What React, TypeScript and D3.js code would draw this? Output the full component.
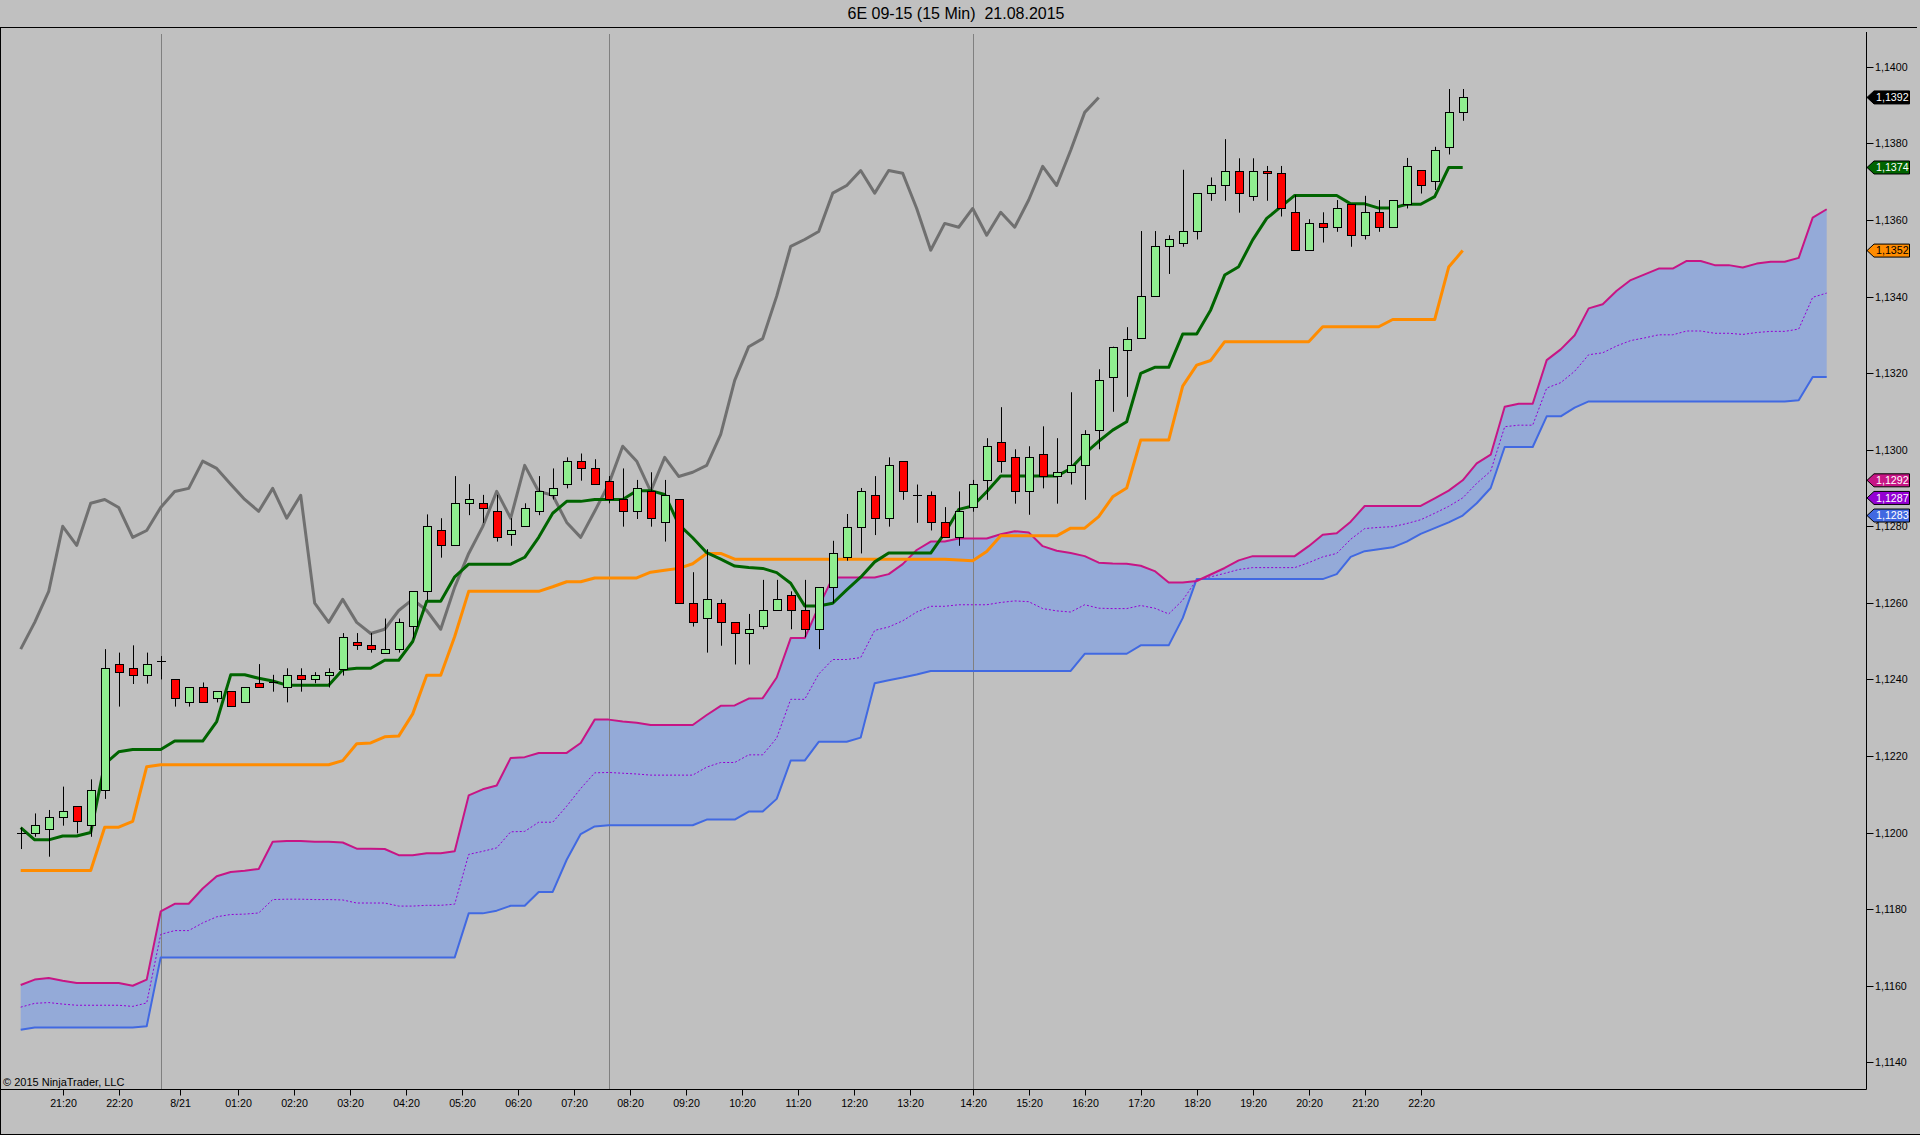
import React, { useEffect } from 'react';
import * as d3 from 'd3';

// ---------- data ----------
const open = [1.11998,1.11998,1.12009,1.12040,1.12069,1.12019,1.12110,1.12439,1.12429,1.12411,
1.12449,1.12400,1.12340,1.12379,1.12351,1.12369,1.12340,1.12390,1.12392,1.12379,
1.12411,1.12400,1.12411,1.12428,1.12499,1.12489,1.12470,1.12479,1.12539,1.12630,
1.12789,1.12750,1.12860,1.12860,1.12839,1.12779,1.12800,1.12839,1.12881,1.12910,
1.12970,1.12951,1.12919,1.12870,1.12839,1.12891,1.12810,1.12870,1.12599,1.12560,
1.12599,1.12549,1.12520,1.12540,1.12580,1.12620,1.12580,1.12531,1.12641,1.12719,
1.12799,1.12881,1.12821,1.12970,1.12881,1.12881,1.12810,1.12771,1.12850,1.12920,
1.13019,1.12980,1.12891,1.12990,1.12930,1.12941,1.12959,1.13051,1.13189,1.13260,
1.13291,1.13401,1.13531,1.13541,1.13570,1.13670,1.13690,1.13729,1.13662,1.13729,
1.13722,1.13620,1.13521,1.13591,1.13581,1.13641,1.13560,1.13620,1.13581,1.13641,
1.13730,1.13701,1.13790,1.13881];

const high = [1.12013,1.12050,1.12059,1.12120,1.12069,1.12139,1.12479,1.12470,1.12489,1.12470,
1.12461,1.12400,1.12379,1.12392,1.12369,1.12369,1.12379,1.12440,1.12412,1.12429,
1.12429,1.12419,1.12429,1.12521,1.12521,1.12521,1.12559,1.12559,1.12630,1.12831,
1.12821,1.12931,1.12910,1.12882,1.12882,1.12821,1.12860,1.12931,1.12951,1.12980,
1.12990,1.12975,1.12931,1.12951,1.12921,1.12941,1.12921,1.12870,1.12680,1.12740,
1.12609,1.12549,1.12571,1.12660,1.12660,1.12630,1.12660,1.12641,1.12762,1.12832,
1.12900,1.12931,1.12980,1.12970,1.12909,1.12891,1.12850,1.12891,1.12921,1.13030,
1.13111,1.13001,1.13009,1.13061,1.13030,1.13150,1.13051,1.13210,1.13269,1.13320,
1.13571,1.13571,1.13560,1.13731,1.13670,1.13711,1.13811,1.13761,1.13761,1.13741,
1.13741,1.13665,1.13602,1.13620,1.13652,1.13641,1.13663,1.13652,1.13652,1.13762,
1.13730,1.13791,1.13942,1.13942];

const low = [1.11957,1.11989,1.11937,1.12018,1.11998,1.11989,1.12088,1.12329,1.12388,1.12389,
1.12400,1.12329,1.12329,1.12340,1.12340,1.12330,1.12340,1.12379,1.12368,1.12340,
1.12368,1.12390,1.12379,1.12410,1.12477,1.12470,1.12470,1.12470,1.12507,1.12607,
1.12718,1.12750,1.12829,1.12809,1.12760,1.12749,1.12800,1.12829,1.12870,1.12899,
1.12919,1.12910,1.12860,1.12799,1.12819,1.12799,1.12760,1.12599,1.12538,1.12470,
1.12488,1.12439,1.12439,1.12531,1.12580,1.12531,1.12510,1.12479,1.12599,1.12710,
1.12729,1.12777,1.12799,1.12869,1.12809,1.12789,1.12771,1.12749,1.12838,1.12869,
1.12940,1.12859,1.12830,1.12899,1.12859,1.12909,1.12869,1.13001,1.13099,1.13138,
1.13291,1.13401,1.13459,1.13530,1.13549,1.13650,1.13650,1.13619,1.13650,1.13650,
1.13609,1.13521,1.13521,1.13541,1.13569,1.13530,1.13549,1.13569,1.13581,1.13630,
1.13669,1.13678,1.13771,1.13859];

const close = [1.11998,1.12019,1.12040,1.12057,1.12029,1.12110,1.12429,1.12419,1.12411,1.12439,
1.12449,1.12351,1.12379,1.12340,1.12369,1.12330,1.12379,1.12379,1.12392,1.12411,
1.12400,1.12411,1.12419,1.12510,1.12489,1.12479,1.12479,1.12549,1.12630,1.12800,
1.12750,1.12860,1.12870,1.12849,1.12771,1.12789,1.12849,1.12891,1.12899,1.12970,
1.12951,1.12910,1.12870,1.12839,1.12899,1.12821,1.12881,1.12599,1.12549,1.12609,
1.12549,1.12520,1.12531,1.12580,1.12609,1.12580,1.12531,1.12641,1.12729,1.12799,
1.12891,1.12821,1.12959,1.12891,1.12881,1.12810,1.12771,1.12839,1.12910,1.13009,
1.12970,1.12891,1.12980,1.12930,1.12941,1.12959,1.13040,1.13181,1.13269,1.13290,
1.13401,1.13531,1.13549,1.13570,1.13670,1.13690,1.13729,1.13670,1.13729,1.13722,
1.13630,1.13521,1.13591,1.13581,1.13630,1.13560,1.13620,1.13581,1.13652,1.13740,
1.13690,1.13782,1.13881,1.13920];

// Tenkan-sen (dark green)
const tenkan = [1.12013,1.11981,1.11981,1.11991,1.11991,1.12000,1.12179,1.12211,1.12217,1.12217,
1.12217,1.12239,1.12239,1.12239,1.12290,1.12412,1.12412,1.12403,1.12396,1.12385,
1.12385,1.12385,1.12385,1.12425,1.12429,1.12429,1.12450,1.12450,1.12499,1.12604,
1.12604,1.12668,1.12701,1.12701,1.12701,1.12701,1.12719,1.12771,1.12834,1.12865,
1.12865,1.12870,1.12870,1.12870,1.12893,1.12893,1.12883,1.12805,1.12770,1.12731,
1.12714,1.12696,1.12692,1.12690,1.12679,1.12651,1.12592,1.12592,1.12599,1.12634,
1.12667,1.12707,1.12730,1.12730,1.12730,1.12730,1.12782,1.12844,1.12853,1.12890,
1.12931,1.12931,1.12931,1.12931,1.12931,1.12951,1.12990,1.13022,1.13051,1.13073,
1.13199,1.13215,1.13215,1.13302,1.13302,1.13365,1.13456,1.13478,1.13548,1.13604,
1.13634,1.13664,1.13664,1.13664,1.13664,1.13642,1.13642,1.13631,1.13631,1.13641,
1.13641,1.13661,1.13737,1.13737];

// Kijun-sen (orange)
const kijun = [1.11901,1.11901,1.11901,1.11901,1.11901,1.11901,1.12014,1.12014,1.12029,1.12172,
1.12177,1.12177,1.12177,1.12177,1.12177,1.12177,1.12177,1.12177,1.12177,1.12177,
1.12177,1.12177,1.12177,1.12188,1.12232,1.12234,1.12250,1.12252,1.12310,1.12411,
1.12411,1.12512,1.12630,1.12630,1.12630,1.12630,1.12630,1.12630,1.12642,1.12655,
1.12655,1.12665,1.12665,1.12665,1.12665,1.12680,1.12685,1.12690,1.12702,1.12729,
1.12729,1.12714,1.12714,1.12714,1.12714,1.12714,1.12714,1.12714,1.12714,1.12714,
1.12714,1.12714,1.12714,1.12714,1.12714,1.12714,1.12714,1.12712,1.12710,1.12734,
1.12775,1.12775,1.12775,1.12775,1.12775,1.12795,1.12795,1.12825,1.12877,1.12900,
1.13025,1.13025,1.13025,1.13166,1.13221,1.13233,1.13282,1.13282,1.13282,1.13282,
1.13282,1.13282,1.13282,1.13321,1.13321,1.13321,1.13321,1.13321,1.13340,1.13340,
1.13340,1.13340,1.13477,1.13520];

// Chikou span (grey): the close plotted 26 bars back
const chikou = close.slice(26);

// Senkou span A (pink), 26 bars beyond the last candle
const senkouA = [1.11602,1.11616,1.11620,1.11613,1.11607,1.11607,1.11607,1.11607,1.11600,1.11616,
1.11794,1.11814,1.11814,1.11854,1.11886,1.11897,1.11900,1.11905,1.11976,1.11978,
1.11978,1.11976,1.11976,1.11974,1.11958,1.11958,1.11957,1.11941,1.11941,1.11946,
1.11946,1.11951,1.12097,1.12113,1.12123,1.12195,1.12197,1.12208,1.12208,1.12208,
1.12234,1.12295,1.12295,1.12290,1.12287,1.12281,1.12281,1.12281,1.12281,1.12307,
1.12331,1.12332,1.12350,1.12351,1.12405,1.12508,1.12508,1.12590,1.12666,1.12666,
1.12666,1.12666,1.12675,1.12701,1.12738,1.12760,1.12760,1.12768,1.12768,1.12768,
1.12779,1.12787,1.12784,1.12748,1.12736,1.12730,1.12722,1.12705,1.12703,1.12702,
1.12697,1.12683,1.12653,1.12653,1.12657,1.12674,1.12691,1.12711,1.12722,1.12722,
1.12722,1.12722,1.12748,1.12778,1.12782,1.12812,1.12853,1.12853,1.12853,1.12853,
1.12853,1.12873,1.12893,1.12920,1.12964,1.12987,1.13112,1.13120,1.13120,1.13234,
1.13262,1.13299,1.13369,1.13380,1.13415,1.13443,1.13458,1.13473,1.13473,1.13493,
1.13493,1.13482,1.13482,1.13476,1.13486,1.13491,1.13491,1.13501,1.13606,1.13628];

// Senkou span B (blue)
const senkouB = [1.11485,1.11491,1.11491,1.11491,1.11491,1.11491,1.11491,1.11491,1.11491,1.11494,
1.11674,1.11674,1.11674,1.11674,1.11674,1.11674,1.11674,1.11674,1.11674,1.11674,
1.11674,1.11674,1.11674,1.11674,1.11674,1.11674,1.11674,1.11674,1.11674,1.11674,
1.11674,1.11674,1.11789,1.11789,1.11796,1.11809,1.11809,1.11845,1.11845,1.11929,
1.11996,1.12016,1.12019,1.12019,1.12019,1.12019,1.12019,1.12019,1.12019,1.12034,
1.12034,1.12034,1.12055,1.12055,1.12088,1.12188,1.12188,1.12237,1.12237,1.12237,
1.12248,1.12390,1.12398,1.12405,1.12413,1.12422,1.12422,1.12422,1.12422,1.12422,
1.12422,1.12422,1.12422,1.12422,1.12422,1.12422,1.12467,1.12467,1.12467,1.12467,
1.12489,1.12489,1.12489,1.12560,1.12662,1.12662,1.12662,1.12662,1.12662,1.12662,
1.12662,1.12662,1.12662,1.12662,1.12675,1.12720,1.12735,1.12740,1.12745,1.12760,
1.12780,1.12795,1.12810,1.12828,1.12860,1.12900,1.13007,1.13007,1.13007,1.13087,
1.13087,1.13110,1.13126,1.13126,1.13126,1.13126,1.13126,1.13126,1.13126,1.13126,
1.13126,1.13126,1.13126,1.13126,1.13126,1.13126,1.13126,1.13129,1.13190,1.13190];

// Cloud middle line (purple dashed)
const cloudMid = [1.11544,1.11554,1.11556,1.11552,1.11549,1.11549,1.11549,1.11549,1.11546,1.11555,
1.11734,1.11744,1.11744,1.11764,1.11780,1.11786,1.11787,1.11790,1.11825,1.11826,
1.11826,1.11825,1.11825,1.11824,1.11816,1.11816,1.11816,1.11808,1.11808,1.11810,
1.11810,1.11813,1.11943,1.11951,1.11960,1.12002,1.12003,1.12027,1.12027,1.12069,
1.12115,1.12156,1.12157,1.12155,1.12153,1.12150,1.12150,1.12150,1.12150,1.12171,
1.12183,1.12183,1.12203,1.12203,1.12247,1.12348,1.12348,1.12414,1.12452,1.12452,
1.12457,1.12528,1.12537,1.12553,1.12576,1.12591,1.12591,1.12595,1.12595,1.12595,
1.12601,1.12605,1.12603,1.12585,1.12579,1.12576,1.12595,1.12586,1.12585,1.12585,
1.12593,1.12586,1.12571,1.12607,1.12660,1.12668,1.12677,1.12687,1.12692,1.12692,
1.12692,1.12692,1.12705,1.12720,1.12729,1.12766,1.12794,1.12797,1.12799,1.12807,
1.12817,1.12834,1.12852,1.12874,1.12912,1.12944,1.13060,1.13064,1.13064,1.13161,
1.13175,1.13205,1.13248,1.13253,1.13271,1.13285,1.13292,1.13300,1.13300,1.13310,
1.13310,1.13304,1.13304,1.13301,1.13306,1.13309,1.13309,1.13315,1.13398,1.13409];

const timeTickLabels = ['21:20','22:20','8/21','01:20','02:20','03:20','04:20','05:20','06:20','07:20',
'08:20','09:20','10:20','11:20','12:20','13:20','14:20','15:20','16:20','17:20','18:20','19:20','20:20','21:20','22:20'];
const timeTickBars = [3,7,11.35,15.5,19.5,23.5,27.5,31.5,35.5,39.5,43.5,47.5,51.5,55.5,59.5,63.5,68,72,76,80,84,88,92,96,100];
const sessionBreakBars = [10, 42, 68];
const priceTicks = [1.114,1.116,1.118,1.120,1.122,1.124,1.126,1.128,1.130,1.132,1.134,1.136,1.138,1.140];

const TITLE = '6E 09-15 (15 Min)  21.08.2015';
const COPYRIGHT = '\u00A9 2015 NinjaTrader, LLC';

// ---------- component ----------
const W = 1920;
const H = 1135;
const FONT = '"Liberation Sans", Arial, Helvetica, sans-serif';

const fmt = (v: number) => v.toFixed(4).replace('.', ',');

export default function App() {
  useEffect(() => {
    document.body.style.margin = '0';
    document.body.style.overflow = 'hidden';
  }, []);

  const nBars = senkouA.length; // 130 (104 candles + 26 ahead)
  const x = d3.scaleLinear().domain([0, nBars - 1]).range([20.7, 1826.7]);
  const y = d3.scaleLinear().domain([1.114, 1.14]).range([1062.3, 66.8]);

  const axisX = 1866.5;
  const timeAxisY = 1089.5;

  const line = d3.line<number>().x((_, i) => x(i)).y((d) => y(d));
  const cloudArea = d3
    .area<number>()
    .x((_, i) => x(i))
    .y0((_, i) => y(senkouB[i]))
    .y1((d) => y(d));

  const last = close.length - 1;
  const flags = [
    { v: close[last], fill: '#000000', text: '#ffffff' },
    { v: tenkan[last], fill: '#006400', text: '#ffffff' },
    { v: kijun[last], fill: '#ff8c00', text: '#000000' },
    { v: senkouA[last], fill: '#c71585', text: '#ffffff' },
    { v: cloudMid[last], fill: '#9400d3', text: '#ffffff' },
    { v: senkouB[last], fill: '#4169e1', text: '#ffffff' },
  ];

  return (
    <svg
      width={W}
      height={H}
      viewBox={`0 0 ${W} ${H}`}
      style={{ position: 'absolute', left: 0, top: 0, display: 'block' }}
      fontFamily={FONT}
    >
      <rect x={0} y={0} width={W} height={H} fill="#c0c0c0" />

      {/* title */}
      <text x={956} y={19} fontSize={16} textAnchor="middle" fill="#000" style={{ whiteSpace: 'pre' }}>
        {TITLE}
      </text>

      {/* cloud */}
      <path d={cloudArea(senkouA) || ''} fill="#94aad8" stroke="none" />

      {/* session break lines */}
      {sessionBreakBars.map((b) => (
        <line key={'sb' + b} x1={Math.round(x(b)) + 0.5} x2={Math.round(x(b)) + 0.5} y1={34} y2={timeAxisY} stroke="#808080" strokeWidth={1} />
      ))}

      <path d={line(senkouB) || ''} fill="none" stroke="#4169e1" strokeWidth={2} strokeLinejoin="round" />
      <path d={line(cloudMid) || ''} fill="none" stroke="#9400d3" strokeWidth={1} strokeDasharray="2,2" />
      <path d={line(senkouA) || ''} fill="none" stroke="#c71585" strokeWidth={2} strokeLinejoin="round" />

      <path d={line(chikou) || ''} fill="none" stroke="#707070" strokeWidth={3} strokeLinejoin="round" />
      <path d={line(kijun) || ''} fill="none" stroke="#ff8c00" strokeWidth={3} strokeLinejoin="round" />
      <path d={line(tenkan) || ''} fill="none" stroke="#006400" strokeWidth={3} strokeLinejoin="round" />

      {/* candles */}
      {open.map((o, i) => {
        const c = close[i];
        const cx = Math.round(x(i)) + 0.5;
        const yH = y(high[i]);
        const yL = y(low[i]);
        if (o === c) {
          const yy = Math.round(y(o)) + 0.5;
          return (
            <g key={'c' + i}>
              <line x1={cx} x2={cx} y1={yH} y2={yL} stroke="#000" strokeWidth={1} />
              <line x1={cx - 4.5} x2={cx + 4.5} y1={yy} y2={yy} stroke="#000" strokeWidth={1} />
            </g>
          );
        }
        const top = Math.round(y(Math.max(o, c))) + 0.5;
        const bot = Math.round(y(Math.min(o, c))) + 0.5;
        return (
          <g key={'c' + i}>
            <line x1={cx} x2={cx} y1={yH} y2={yL} stroke="#000" strokeWidth={1} />
            <rect
              x={cx - 4}
              y={top}
              width={8}
              height={Math.max(1, bot - top)}
              fill={c > o ? '#90ee90' : '#ff0000'}
              stroke="#000"
              strokeWidth={1}
            />
          </g>
        );
      })}

      {/* frame */}
      <line x1={0} x2={1917} y1={27.5} y2={27.5} stroke="#000" strokeWidth={1} />
      <line x1={0.5} x2={0.5} y1={27} y2={1135} stroke="#000" strokeWidth={1} />
      <line x1={0} x2={W} y1={1134.5} y2={1134.5} stroke="#000" strokeWidth={1} />
      <line x1={0} x2={axisX} y1={timeAxisY} y2={timeAxisY} stroke="#000" strokeWidth={1} />
      <line x1={axisX} x2={axisX} y1={32} y2={timeAxisY} stroke="#000" strokeWidth={1} />

      {/* price axis */}
      {priceTicks.map((p) => {
        const yy = Math.round(y(p)) + 0.5;
        return (
          <g key={'p' + p}>
            <line x1={axisX} x2={axisX + 7} y1={yy} y2={yy} stroke="#000" strokeWidth={1} />
            <text x={1875} y={yy + 3.8} fontSize={10.67} fill="#000">
              {fmt(p)}
            </text>
          </g>
        );
      })}

      {/* time axis */}
      {timeTickBars.map((b, k) => {
        const xx = Math.round(x(b)) + 0.5;
        return (
          <g key={'t' + k}>
            <line x1={xx} x2={xx} y1={timeAxisY} y2={timeAxisY + 6} stroke="#000" strokeWidth={1} />
            <text x={xx} y={1107} fontSize={10.67} textAnchor="middle" fill="#000">
              {timeTickLabels[k]}
            </text>
          </g>
        );
      })}

      {/* last-value markers */}
      {flags.map((f, k) => {
        const yc = y(f.v);
        const pts = [
          [axisX + 0.5, yc],
          [axisX + 7.5, yc - 6.5],
          [1909.5, yc - 6.5],
          [1909.5, yc + 6.5],
          [axisX + 7.5, yc + 6.5],
        ]
          .map((p) => p.join(','))
          .join(' ');
        return (
          <g key={'f' + k}>
            <polygon points={pts} fill={f.fill} stroke="#000" strokeWidth={1} />
            <text x={1876} y={yc + 3.8} fontSize={10.67} fill={f.text}>
              {fmt(f.v)}
            </text>
          </g>
        );
      })}

      <text x={3} y={1086} fontSize={11} fill="#000">
        {COPYRIGHT}
      </text>
    </svg>
  );
}
